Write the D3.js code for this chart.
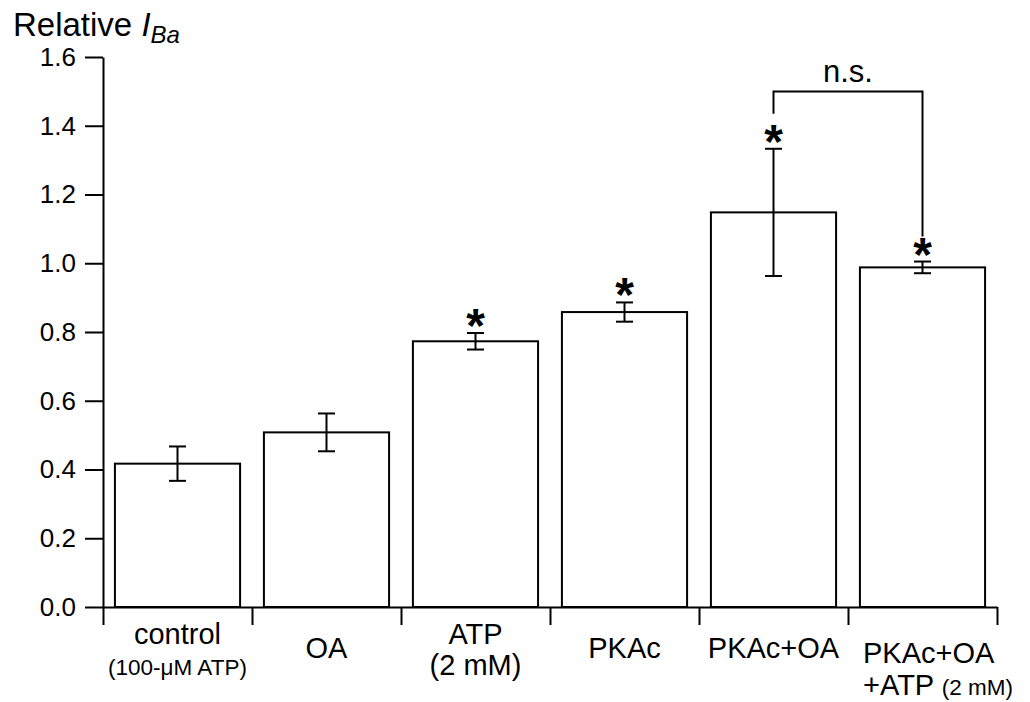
<!DOCTYPE html>
<html>
<head>
<meta charset="utf-8">
<script src="https://cdn.jsdelivr.net/npm/d3@7"></script>
<style>
  body { margin: 0; background: #fff; }
  text { font-family: Arial, "Liberation Sans", sans-serif; fill: #000; }
</style>
</head>
<body>
<svg id="chart" width="1030" height="702"></svg>
<script>
// values
let categories = ["control", "OA", "ATP", "PKAc", "PKAc+OA", "PKAc+OA+ATP"],
  means = [0.417, 0.508, 0.773, 0.858, 1.148, 0.988],
  errors = [0.050, 0.055, 0.024, 0.028, 0.185, 0.017],
  significant = [false, false, true, true, true, true],
  yTicks = [0.0, 0.2, 0.4, 0.6, 0.8, 1.0, 1.2, 1.4, 1.6],
  labelLines = [["control", "(100-μM ATP)"], ["OA"], ["ATP", "(2 mM)"],
                ["PKAc"], ["PKAc+OA"], ["PKAc+OA", "+ATP", "(2 mM)"]],
  bracket = {from: 4, to: 5, top: 1.5, leftEnd: 1.435, rightEnd: 1.078, label: "n.s."};

let width = 1030,
  height = 702,
  margins = {left: 103, right: 33, top: 57, bottom: 95};

let svg = d3.select("#chart");

let x = d3.scaleBand()
  .domain(categories)
  .range([margins.left, width - margins.right])
  .paddingInner(0.16)
  .paddingOuter(0.08);

let xEdges = d3.scaleLinear()
  .domain([0, categories.length])
  .range([margins.left, width - margins.right]);

let y = d3.scaleLinear()
  .domain([0, 1.6])
  .range([height - margins.bottom, margins.top]);

// axes
let yAxis = svg.append("g")
  .attr("transform", `translate(${margins.left}, 0)`)
  .call(d3.axisLeft(y).tickValues(yTicks).tickFormat(d3.format(".1f"))
    .tickSize(18).tickSizeOuter(0).tickPadding(9));
yAxis.selectAll("text").style("font-size", "26px").attr("font-family", null);

let xAxis = svg.append("g")
  .attr("transform", `translate(0, ${y(0)})`)
  .call(d3.axisBottom(xEdges).ticks(categories.length).tickFormat("")
    .tickSize(18).tickSizeOuter(0));

svg.selectAll(".domain, .tick line").attr("stroke", "#000").attr("stroke-width", 2);

// bars
svg.append("g").selectAll("rect")
  .data(categories).enter()
  .append("rect")
  .attr("x", d => x(d))
  .attr("y", (d, i) => y(means[i]))
  .attr("width", x.bandwidth())
  .attr("height", (d, i) => y(0) - y(means[i]))
  .attr("fill", "#fff")
  .attr("stroke", "#000")
  .attr("stroke-width", 2);

// error bars + stars
let eb = svg.append("g").attr("stroke", "#000").attr("stroke-width", 2);
categories.forEach((c, i) => {
  let cx = x(c) + x.bandwidth() / 2,
    hi = y(means[i] + errors[i]),
    lo = y(means[i] - errors[i]);
  eb.append("line").attr("x1", cx).attr("x2", cx).attr("y1", hi).attr("y2", lo);
  eb.append("line").attr("x1", cx - 8.5).attr("x2", cx + 8.5).attr("y1", hi).attr("y2", hi);
  eb.append("line").attr("x1", cx - 8.5).attr("x2", cx + 8.5).attr("y1", lo).attr("y2", lo);
  if (significant[i]) {
    svg.append("text")
      .attr("x", cx)
      .attr("y", hi + 9)
      .attr("text-anchor", "middle")
      .style("font-size", "48px")
      .style("font-weight", "bold")
      .text("*");
  }
});

// n.s. bracket
let bx1 = x(categories[bracket.from]) + x.bandwidth() / 2,
  bx2 = x(categories[bracket.to]) + x.bandwidth() / 2;
svg.append("path")
  .attr("d", `M${bx1},${y(bracket.leftEnd)}V${y(bracket.top)}H${bx2}V${y(bracket.rightEnd)}`)
  .attr("fill", "none")
  .attr("stroke", "#000")
  .attr("stroke-width", 2);
svg.append("text")
  .attr("x", (bx1 + bx2) / 2)
  .attr("y", y(bracket.top) - 9)
  .attr("text-anchor", "middle")
  .style("font-size", "31px")
  .text(bracket.label);

// category labels
let big = "29px", small = "22.5px";
labelLines.forEach((lines, i) => {
  let cx = x(categories[i]) + x.bandwidth() / 2,
    g = svg.append("g");
  if (i == 5) {
    let lx = xEdges(i) + 15;
    g.append("text").attr("x", lx).attr("y", y(0) + 56).style("font-size", big).text(lines[0]);
    let t = g.append("text").attr("x", lx).attr("y", y(0) + 88);
    t.append("tspan").style("font-size", big).text(lines[1] + " ");
    t.append("tspan").style("font-size", small).text(lines[2]);
  } else if (lines.length == 1) {
    g.append("text").attr("x", cx).attr("y", y(0) + 51)
      .attr("text-anchor", "middle").style("font-size", big).text(lines[0]);
  } else {
    g.append("text").attr("x", cx).attr("y", y(0) + 37)
      .attr("text-anchor", "middle").style("font-size", big).text(lines[0]);
    g.append("text").attr("x", cx).attr("y", y(0) + 68)
      .attr("text-anchor", "middle").style("font-size", i == 0 ? small : big).text(lines[1]);
  }
});

// axis title
let title = svg.append("text").attr("x", 13).attr("y", 36).style("font-size", "33px");
title.append("tspan").text("Relative ");
title.append("tspan").style("font-style", "italic").text("I");
title.append("tspan").style("font-style", "italic").style("font-size", "24px")
  .attr("dy", 7).text("Ba");
</script>
</body>
</html>
